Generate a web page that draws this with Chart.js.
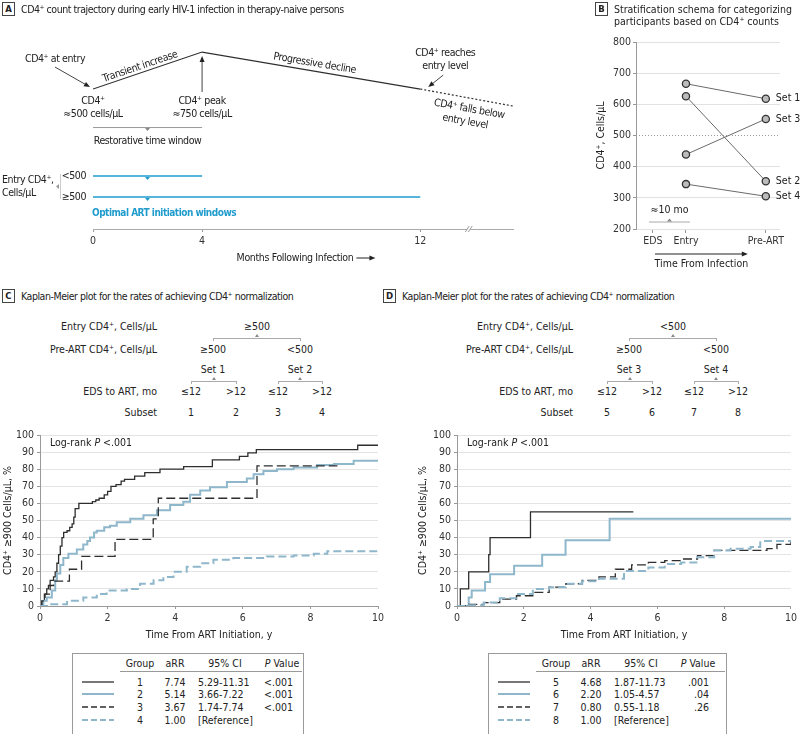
<!DOCTYPE html>
<html>
<head>
<meta charset="utf-8">
<script src="https://cdn.jsdelivr.net/npm/chart.js@4.4.1/dist/chart.umd.min.js"></script>
<style>
  body { margin: 0; width: 800px; height: 734px; position: relative; overflow: hidden; background: #fff; color: #222;
         font-family: "DejaVu Sans Condensed", "Roboto", sans-serif; }
  canvas { position: absolute; }
  .t { position: absolute; white-space: nowrap; font-size: 10.5px; line-height: 12px; }
  .box { position: absolute; width: 11px; height: 12px; border: 1px solid #444; font-size: 9.5px; font-weight: bold; line-height: 12px; text-align: center; }
  .ln { position: absolute; background: #aaa; }
  .legend { position: absolute; border: 1px solid #9a9a9a; }
  .smp { position: absolute; line-height: 0; }
  .smp svg { display: block; }
</style>
</head>
<body>
<canvas id="chartA" width="540" height="260" style="left:0;top:20px"></canvas>
<canvas id="chartB" width="225" height="250" style="left:575px;top:30px"></canvas>
<canvas id="chartC" width="395" height="225" style="left:0;top:425px"></canvas>
<canvas id="chartD" width="385" height="225" style="left:415px;top:425px"></canvas>
<script>
// ---- panel A: schematic trajectory
const trajMonths = [0, 4, 12];
const trajCD4 = [500, 750, 500];
const declineMonths = [12, 15.4];
const declineCD4 = [500, 385];
const monthTicks = [0, 4, 12];
const entryGroups = ['≥500', '<500'];
const windowEnds = [12, 4];

// ---- panel B: stratification
const timePoints = ['EDS', 'Entry', 'Pre-ART'];
const timePos = [0, 1, 3.42];
const setNames = ['Set 1', 'Set 2', 'Set 3', 'Set 4'];
const entryCD4 = [666, 626, 439, 344];
const preArtCD4 = [618, 353, 553, 305];
const thresholdCD4 = 500;

// ---- panel C / D: Kaplan-Meier curves, [years, %]
const group1 = [[0,0],[0.08,3],[0.13,7],[0.2,10],[0.25,12],[0.3,15],[0.4,17],[0.45,20],[0.5,25],[0.55,30],[0.6,35],[0.65,40],[0.7,43],[0.8,44],[0.88,46],[0.95,48],[1.0,52],[1.04,57],[1.15,60],[1.55,61],[1.65,62],[1.75,63],[1.9,65],[2.0,67],[2.1,70],[2.25,71],[2.4,73],[2.5,74],[2.8,76],[3.1,78],[3.55,80],[4.25,81.5],[5.1,85.5],[5.9,87.5],[6.15,89.5],[6.4,91.5],[9.4,94],[10,94]];
const group2 = [[0,0],[0.1,3],[0.2,5],[0.35,9],[0.45,15],[0.5,19],[0.6,24],[0.69,28],[0.84,30.5],[1.09,33],[1.28,36],[1.4,38],[1.48,40],[1.6,43],[1.68,44],[1.9,46],[2.07,47],[2.27,49],[2.67,51],[3.06,53],[3.46,56],[3.85,59],[4.24,61],[4.44,65],[4.74,67.5],[5.03,69.5],[5.53,72.5],[6.12,74.5],[6.32,77],[6.61,79],[7.01,80],[7.5,81],[8.2,82.5],[8.7,83],[9.28,85],[10,85]];
const group3 = [[0,0],[0.05,3],[0.15,7],[0.3,12],[0.4,14.5],[0.87,21.5],[1.23,29],[2.22,39],[3.35,51],[3.5,63],[6.42,82],[8.8,82]];
const group4 = [[0,0],[0.3,1],[0.8,3],[1.28,5],[1.68,7],[1.97,9],[2.57,10],[2.96,13],[3.36,15],[3.65,17],[3.95,20],[4.34,23],[4.74,25],[5.13,27],[5.72,28],[6.71,29],[7.5,29.5],[8.1,30.5],[8.5,32],[10,32]];
const group5 = [[0,0],[0.1,10],[0.35,20],[0.95,30],[0.99,40],[2.2,55],[5.28,55]];
const group6 = [[0,0],[0.35,5],[0.44,9],[0.84,14],[0.99,18.5],[1.71,23.5],[2.55,30],[3.25,38.5],[4.57,51],[10,51]];
const group7 = [[0,0],[0.3,1],[0.8,2],[1.28,4],[1.78,6],[2.27,8],[2.76,11],[3.26,13],[3.75,15],[4.25,17],[4.74,21.5],[5.23,24],[5.73,25.5],[6.22,26.5],[6.71,27.5],[7.2,29.5],[7.7,32.5],[9.28,33.5],[9.58,36],[10,37.5]];
const group8 = [[0,0],[0.3,0.5],[0.8,2],[1.28,4.5],[1.78,7],[2.27,10],[2.76,11],[3.26,13],[3.75,14.5],[4.25,16],[5.0,20.5],[5.73,22.5],[6.22,24.5],[6.71,25.5],[7.2,28.5],[7.7,32.5],[8.19,33.5],[8.79,34.5],[9.08,38],[10,38]];

// ---- legend tables
const groupsC = ['1', '2', '3', '4'];
const aRRC = ['7.74', '5.14', '3.67', '1.00'];
const ciC = ['5.29-11.31', '3.66-7.22', '1.74-7.74', '[Reference]'];
const pC = ['<.001', '<.001', '<.001', ''];
const groupsD = ['5', '6', '7', '8'];
const aRRD = ['4.68', '2.20', '0.80', '1.00'];
const ciD = ['1.87-11.73', '1.05-4.57', '0.55-1.18', '[Reference]'];
const pD = ['.001', '.04', '.26', ''];

const FONT = '"DejaVu Sans Condensed", "Roboto", sans-serif';
const BLACK = '#2e2e2e';
const BLUE = '#8fb7cb';
const CYAN = '#1f9ccc';

Chart.defaults.font.family = FONT;
Chart.defaults.font.size = 10;
Chart.defaults.color = '#333';
Chart.defaults.animation = false;
Chart.defaults.responsive = false;
Chart.defaults.plugins.legend.display = false;
Chart.defaults.plugins.tooltip.enabled = false;

// ---------- html helpers
function text(str, x, y, align, style) {
  const d = document.createElement('div');
  d.className = 't';
  d.innerHTML = str;
  d.style.left = x + 'px';
  d.style.top = (y - 6) + 'px';
  if (align === 'center') d.style.transform = 'translateX(-50%)';
  if (align === 'right') d.style.transform = 'translateX(-100%)';
  if (style) d.style.cssText += style;
  document.body.appendChild(d);
  return d;
}
function rule(x, y, w, h, color) {
  const d = document.createElement('div');
  d.className = 'ln';
  d.style.cssText += `left:${x}px;top:${y}px;width:${w}px;height:${h}px;` + (color ? `background:${color};` : '');
  document.body.appendChild(d);
}
function triUp(x, y, color) {
  const d = document.createElement('div');
  d.style.cssText = `position:absolute;left:${x - 2.5}px;top:${y - 3}px;width:0;height:0;border-left:2.5px solid transparent;border-right:2.5px solid transparent;border-bottom:3px solid ${color || '#888'};`;
  document.body.appendChild(d);
}
function bracket(x1, x2, y) {
  rule(x1, y, x2 - x1 + 1, 1);
  rule(x1, y, 1, 3);
  rule(x2, y, 1, 3);
  triUp((x1 + x2) / 2 + 0.5, y - 1);
}
function panelTitle(letter, x, y, lines, spacing) {
  const b = document.createElement('div');
  b.className = 'box';
  b.textContent = letter;
  b.style.left = x + 'px';
  b.style.top = (y - 7) + 'px';
  document.body.appendChild(b);
  lines.forEach((l, i) => text(l, x + 19, y + i * 12, 'left', `font-size:10.5px;letter-spacing:${spacing}px`));
}
function sample(x1, x2, y, color, width, dash) {
  const d = document.createElement('div');
  d.className = 'smp';
  d.style.left = x1 + 'px';
  d.style.top = (y - 3) + 'px';
  d.innerHTML = `<svg width="${x2 - x1}" height="6"><line x1="0" y1="3" x2="${x2 - x1}" y2="3" stroke="${color}" stroke-width="${width}" ${dash ? `stroke-dasharray="${dash}"` : ''}/></svg>`;
  document.body.appendChild(d);
}

// ---------- canvas helpers
function arrow(ctx, x1, y1, x2, y2) {
  const a = Math.atan2(y2 - y1, x2 - x1);
  ctx.beginPath(); ctx.moveTo(x1, y1); ctx.lineTo(x2 - 4 * Math.cos(a), y2 - 4 * Math.sin(a)); ctx.stroke();
  ctx.beginPath();
  ctx.moveTo(x2, y2);
  ctx.lineTo(x2 - 6 * Math.cos(a) + 2.5 * Math.sin(a), y2 - 6 * Math.sin(a) - 2.5 * Math.cos(a));
  ctx.lineTo(x2 - 6 * Math.cos(a) - 2.5 * Math.sin(a), y2 - 6 * Math.sin(a) + 2.5 * Math.cos(a));
  ctx.closePath(); ctx.fill();
}
function tri(ctx, x, y, dir, s, color) {
  ctx.fillStyle = color;
  ctx.beginPath();
  if (dir === 'down') { ctx.moveTo(x - s, y); ctx.lineTo(x + s, y); ctx.lineTo(x, y + s * 1.2); }
  if (dir === 'up') { ctx.moveTo(x - s, y); ctx.lineTo(x + s, y); ctx.lineTo(x, y - s * 1.2); }
  if (dir === 'left') { ctx.moveTo(x, y - s); ctx.lineTo(x, y + s); ctx.lineTo(x - s * 1.2, y); }
  ctx.closePath(); ctx.fill();
}
function alongText(ctx, str, a, b, t, off) {
  const ang = Math.atan2(b[1] - a[1], b[0] - a[0]);
  ctx.save();
  ctx.translate(a[0] + (b[0] - a[0]) * t, a[1] + (b[1] - a[1]) * t);
  ctx.rotate(ang);
  ctx.textAlign = 'center'; ctx.textBaseline = 'middle';
  ctx.fillText(str, 0, off);
  ctx.restore();
}

// ================= Panel A
const annotA = {
  id: 'annotA',
  afterDatasetsDraw(chart) {
    const { ctx, chartArea: ca, scales: { x, y, row } } = chart;
    const X = v => x.getPixelForValue(v), Y = v => y.getPixelForValue(v), R = v => row.getPixelForValue(v);
    const p0 = [X(trajMonths[0]), Y(trajCD4[0])];
    const pk = [X(trajMonths[1]), Y(trajCD4[1])];
    const pe = [X(trajMonths[2]), Y(trajCD4[2])];
    const pd = [X(declineMonths[1]), Y(declineCD4[1])];
    ctx.save();
    ctx.font = `10.5px ${FONT}`;
    ctx.letterSpacing = '-0.4px';
    ctx.fillStyle = '#222'; ctx.strokeStyle = '#444'; ctx.lineWidth = 1;
    ctx.textAlign = 'center'; ctx.textBaseline = 'middle';
    ctx.fillText('CD4⁺ at entry', p0[0] - 38, p0[1] - 30);
    arrow(ctx, p0[0] - 38, p0[1] - 22, p0[0] - 3, p0[1] - 2);
    ctx.fillText('CD4⁺', p0[0], p0[1] + 12);
    ctx.fillText('≈500 cells/µL', p0[0], p0[1] + 25);
    ctx.fillText('CD4⁺ peak', pk[0], pk[1] + 49);
    ctx.fillText('≈750 cells/µL', pk[0], pk[1] + 62);
    arrow(ctx, pk[0], pk[1] + 40, pk[0], pk[1] + 4);
    ctx.fillText('CD4⁺ reaches', pe[0] + 25, pe[1] - 36);
    ctx.fillText('entry level', pe[0] + 25, pe[1] - 23);
    arrow(ctx, pe[0] + 23, pe[1] - 14, pe[0] + 8, pe[1] - 2);
    alongText(ctx, 'Transient increase', p0, pk, 0.45, -6);
    alongText(ctx, 'Progressive decline', pk, pe, 0.51, -7.5);
    alongText(ctx, 'CD4⁺ falls below', pe, pd, 0.55, 11);
    alongText(ctx, 'entry level', pe, pd, 0.53, 24);

    // restorative time window
    const ry = p0[1] + 38;
    ctx.fillStyle = '#999';
    ctx.fillRect(X(0), ry, X(4) - X(0), 1);
    tri(ctx, X(2), ry + 1, 'down', 2.5, '#888');
    ctx.fillStyle = '#222';
    ctx.fillText('Restorative time window', X(2), ry + 14);

    // optimal ART windows
    entryGroups.forEach((g, i) => {
      ctx.fillStyle = '#222';
      ctx.textAlign = 'right';
      ctx.fillText(g, X(0) - 7, R(i));
      tri(ctx, X(2), R(i) + 1, 'down', 2.5, CYAN);
    });
    ctx.textAlign = 'left';
    ctx.fillStyle = '#222';
    ctx.fillText('Entry CD4⁺,', 2, R(0.5) - 6.5);
    ctx.fillText('Cells/µL', 2, R(0.5) + 6.5);
    ctx.fillStyle = '#ccc';
    ctx.fillRect(60, R(1) - 2, 1, R(0) - R(1) + 4);
    tri(ctx, 59, R(0.5), 'left', 2.5, '#999');
    ctx.font = `bold 10px ${FONT}`;
    ctx.letterSpacing = '-0.5px';
    ctx.fillStyle = CYAN;
    ctx.fillText('Optimal ART initiation windows', X(0) - 1, R(0) + 16);

    // axis break
    const bx = X(13.76), by = ca.bottom;
    ctx.fillStyle = '#fff';
    ctx.fillRect(bx - 1, by - 3, 3, 6);
    ctx.strokeStyle = '#999';
    ctx.beginPath(); ctx.moveTo(bx - 3, by + 3); ctx.lineTo(bx + 1, by - 3); ctx.stroke();
    ctx.beginPath(); ctx.moveTo(bx, by + 3); ctx.lineTo(bx + 4, by - 3); ctx.stroke();

    // axis title with arrow
    ctx.font = `10.5px ${FONT}`;
    ctx.letterSpacing = '-0.35px';
    ctx.fillStyle = '#222';
    ctx.textAlign = 'center';
    const tx = (ca.left + ca.right) / 2 - 8, ty = ca.bottom + 29;
    ctx.fillText('Months Following Infection', tx, ty);
    const tw = ctx.measureText('Months Following Infection').width;
    ctx.strokeStyle = '#222';
    arrow(ctx, tx + tw / 2 + 3, ty, tx + tw / 2 + 22, ty);
    ctx.restore();
  }
};

new Chart(document.getElementById('chartA'), {
  type: 'scatter',
  data: {
    datasets: [
      { data: trajMonths.map((m, i) => ({ x: m, y: trajCD4[i] })), showLine: true, borderColor: BLACK, borderWidth: 1.2, pointRadius: 0, yAxisID: 'y' },
      { data: declineMonths.map((m, i) => ({ x: m, y: declineCD4[i] })), showLine: true, borderColor: BLACK, borderWidth: 1.2, borderDash: [2, 2], pointRadius: 0, yAxisID: 'y' },
      ...entryGroups.map((g, i) => ({
        data: [{ x: 0, y: i }, { x: windowEnds[i], y: i }], showLine: true, borderColor: CYAN, borderWidth: 1.5, pointRadius: 0, yAxisID: 'row'
      }))
    ]
  },
  options: {
    layout: { padding: { left: 93, right: 27, top: 10 } },
    scales: {
      x: {
        type: 'linear', min: 0, max: 15.4,
        afterBuildTicks: s => { s.ticks = monthTicks.map(v => ({ value: v })); },
        ticks: { padding: 3, maxRotation: 0, color: '#333', font: { size: 10.5 } },
        grid: { drawOnChartArea: false, tickLength: 3, color: '#999' },
        border: { color: '#aaa' },
        afterFit: s => { s.height = 51; }
      },
      y: { display: false, min: -446, max: 899 },
      row: { axis: 'y', type: 'linear', position: 'left', display: false, min: -1.524, max: 7.95 }
    }
  },
  plugins: [annotA]
});

// ================= Panel B
const xMinB = -0.515, xMaxB = 3.85, gapBracketCD4 = 224;
const annotB = {
  id: 'annotB',
  afterDatasetsDraw(chart) {
    const { ctx, chartArea: ca, scales: { x, y } } = chart;
    ctx.save();
    ctx.font = `10.5px ${FONT}`;
    ctx.fillStyle = '#222';
    ctx.textBaseline = 'middle';
    ctx.textAlign = 'left';
    setNames.forEach((n, i) => ctx.fillText(n, x.getPixelForValue(timePos[2]) + 10, y.getPixelForValue(preArtCD4[i])));
    const b0 = x.getPixelForValue(timePos[0]), b1 = x.getPixelForValue(timePos[1]), by = y.getPixelForValue(gapBracketCD4);
    ctx.fillStyle = '#aaa';
    ctx.fillRect(b0 - 4, by, b1 - b0 + 8, 1);
    tri(ctx, (b0 + b1) / 2, by, 'up', 2.5, '#888');
    ctx.fillStyle = '#222';
    ctx.textAlign = 'center';
    ctx.fillText('≈10 mo', (b0 + b1) / 2, by - 11);
    const ay = ca.bottom + 25, a1 = x.getPixelForValue(timePos[2]) - 18;
    ctx.strokeStyle = '#222';
    arrow(ctx, b0 + 2, ay, a1, ay);
    ctx.fillText('Time From Infection', (b0 + 2 + a1) / 2, ay + 10);
    ctx.restore();
  }
};

new Chart(document.getElementById('chartB'), {
  type: 'scatter',
  data: {
    datasets: [
      { data: [{ x: xMinB, y: thresholdCD4 }, { x: xMaxB, y: thresholdCD4 }], showLine: true, borderColor: '#999', borderWidth: 1, borderDash: [1, 2], pointRadius: 0 },
      ...setNames.map((n, i) => ({
        label: n,
        data: [{ x: timePos[1], y: entryCD4[i] }, { x: timePos[2], y: preArtCD4[i] }],
        showLine: true, borderColor: '#6a6a6a', borderWidth: 1,
        pointRadius: 3.6, pointBackgroundColor: '#bcbcbc', pointBorderColor: '#333', pointBorderWidth: 1.3
      }))
    ]
  },
  options: {
    layout: { padding: { top: 12, right: 20 } },
    scales: {
      x: {
        type: 'linear', min: xMinB, max: xMaxB,
        afterBuildTicks: s => { s.ticks = timePos.map(v => ({ value: v })); },
        ticks: { callback: (v, i) => timePoints[i], autoSkip: false, maxRotation: 0, padding: 2, font: { size: 10.5 } },
        grid: { drawOnChartArea: false, tickLength: 4, color: '#999' },
        border: { display: false },
        afterFit: s => { s.height = 51; }
      },
      y: {
        min: 200, max: 800,
        ticks: { stepSize: 100, padding: 2, font: { size: 10.5 } },
        grid: { color: c => c.tick && c.tick.value === thresholdCD4 ? 'rgba(0,0,0,0)' : '#e2e2e2', tickColor: '#999', tickLength: 3 },
        border: { color: '#999' },
        title: { display: true, text: 'CD4⁺, Cells/µL', padding: { top: 20 }, font: { size: 10.5 }, color: '#222' },
        afterFit: s => { s.width = 61; }
      }
    }
  },
  plugins: [annotB]
});

// ================= Panels C and D
function kmLine(points, color, width, dash) {
  return {
    data: points.map(([t, p]) => ({ x: t, y: p })),
    showLine: true, stepped: true, borderColor: color, borderWidth: width,
    borderDash: dash || [], pointRadius: 0, fill: false
  };
}
const logRank = {
  id: 'logRank',
  afterDatasetsDraw(chart) {
    const { ctx, chartArea: ca } = chart;
    ctx.save();
    ctx.fillStyle = '#222';
    ctx.textBaseline = 'middle';
    ctx.textAlign = 'left';
    let xx = ca.left + 10;
    const yy = ca.top + 8;
    ctx.font = `10.5px ${FONT}`;
    ctx.fillText('Log-rank ', xx, yy); xx += ctx.measureText('Log-rank ').width;
    ctx.font = `italic 10.5px ${FONT}`;
    ctx.fillText('P', xx, yy); xx += ctx.measureText('P ').width;
    ctx.font = `10.5px ${FONT}`;
    ctx.fillText('<.001', xx, yy);
    ctx.restore();
  }
};
function kmOptions(yWidth, yTitlePad, padRight) {
  return {
    layout: { padding: { top: 10, right: padRight } },
    scales: {
      x: {
        type: 'linear', min: 0, max: 10,
        ticks: { stepSize: 2, maxRotation: 0, padding: 3, font: { size: 10.5 } },
        grid: { drawOnChartArea: false, tickLength: 3, color: '#999' },
        border: { color: '#999' },
        title: { display: true, text: 'Time From ART Initiation, y', padding: { bottom: 8 }, font: { size: 10.5 }, color: '#222' },
        afterFit: s => { s.height = 44; }
      },
      y: {
        min: 0, max: 100,
        ticks: { stepSize: 10, padding: 3, font: { size: 10.5 } },
        grid: { color: '#e4e4e4', tickColor: '#999', tickLength: 3 },
        border: { color: '#999' },
        title: { display: true, text: 'CD4⁺ ≥900 Cells/µL, %', padding: { top: yTitlePad }, font: { size: 10.5 }, color: '#222' },
        afterFit: s => { s.width = yWidth; }
      }
    }
  };
}

new Chart(document.getElementById('chartC'), {
  type: 'scatter',
  data: {
    datasets: [
      kmLine(group4, BLUE, 2, [8, 4]),
      kmLine(group3, BLACK, 1.3, [9, 4]),
      kmLine(group2, BLUE, 2),
      kmLine(group1, BLACK, 1.3)
    ]
  },
  options: kmOptions(40, 2, 17),
  plugins: [logRank]
});

new Chart(document.getElementById('chartD'), {
  type: 'scatter',
  data: {
    datasets: [
      kmLine(group8, BLUE, 2, [8, 4]),
      kmLine(group7, BLACK, 1.3, [9, 4]),
      kmLine(group6, BLUE, 2),
      kmLine(group5, BLACK, 1.3)
    ]
  },
  options: kmOptions(42, 1.5, 5),
  plugins: [logRank]
});

// ================= HTML text parts
panelTitle('A', 2, 9, ['CD4⁺ count trajectory during early HIV-1 infection in therapy-naive persons'], -0.45);
panelTitle('B', 595, 9, ['Stratification schema for categorizing', 'participants based on CD4⁺ counts'], 0);
panelTitle('C', 2, 296, ['Kaplan-Meier plot for the rates of achieving CD4⁺ normalization'], -0.45);
panelTitle('D', 383, 296, ['Kaplan-Meier plot for the rates of achieving CD4⁺ normalization'], -0.45);

function tree(ox, entryVal, sets, subsets) {
  text('Entry CD4⁺, Cells/µL', 157 + ox, 326, 'right');
  text('Pre-ART CD4⁺, Cells/µL', 157 + ox, 349, 'right');
  text('EDS to ART, mo', 157 + ox, 391, 'right');
  text('Subset', 157 + ox, 412, 'right');
  text(entryVal, 257 + ox, 326, 'center');
  bracket(213 + ox, 300 + ox, 338);
  text('≥500', 213 + ox, 349, 'center');
  text('<500', 300 + ox, 349, 'center');
  text(sets[0], 213 + ox, 369, 'center');
  text(sets[1], 300 + ox, 369, 'center');
  bracket(191 + ox, 236 + ox, 381);
  bracket(278 + ox, 322 + ox, 381);
  [191, 236, 278, 322].forEach((cx, i) => {
    text(i % 2 ? '>12' : '≤12', cx + ox, 391, 'center');
    text(subsets[i], cx + ox, 412, 'center');
  });
}
tree(0, '≥500', ['Set 1', 'Set 2'], ['1', '2', '3', '4']);
tree(416, '<500', ['Set 3', 'Set 4'], ['5', '6', '7', '8']);

function legendTable(left, width, groups, arr, ci, pv) {
  const box = document.createElement('div');
  box.className = 'legend';
  box.style.cssText += `left:${left}px;top:653px;width:${width}px;height:85px;`;
  document.body.appendChild(box);
  text('Group', left + 68, 663, 'center');
  text('aRR', left + 103, 663, 'center');
  text('95% CI', left + 153, 663, 'center');
  text('<i>P</i> Value', left + 210, 663, 'center');
  rule(left + 48, 671, width - 48, 1, '#999');
  const styles = [[BLACK, 1.3, ''], [BLUE, 2, ''], [BLACK, 1.3, '6,3'], [BLUE, 2, '6,3']];
  groups.forEach((g, i) => {
    const yy = 681.5 + i * 12.8;
    sample(left + 10, left + 42, yy, styles[i][0], styles[i][1], styles[i][2]);
    text(g, left + 68, yy, 'center');
    text(arr[i], left + 103, yy, 'center');
    text(ci[i], left + 126, yy, 'left');
    if (pv[i]) text(pv[i], left + 221, yy, 'right');
  });
}
legendTable(72, 230, groupsC, aRRC, ciC, pC);
legendTable(488, 237, groupsD, aRRD, ciD, pD);
</script>
</body>
</html>
